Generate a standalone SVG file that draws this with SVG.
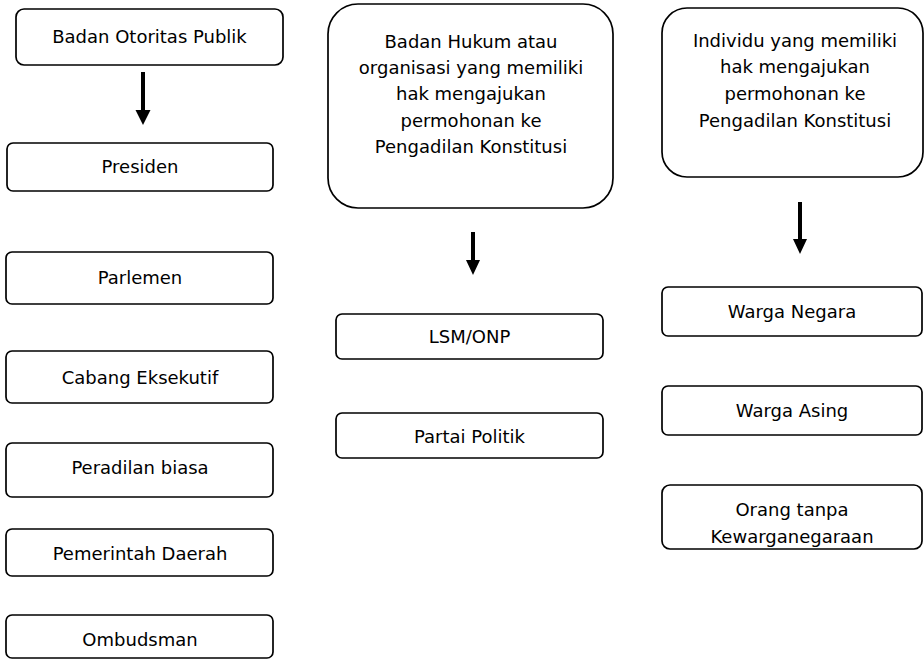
<svg xmlns="http://www.w3.org/2000/svg" width="924" height="660" viewBox="0 0 924 660">
<style>
.box{fill:#fff;stroke:#000;stroke-width:1.7}
.t{font-family:"DejaVu Sans","Liberation Sans",sans-serif;font-size:18px;fill:#000;text-anchor:middle}
.sh{stroke:#000;stroke-width:4;fill:none}
.hd{fill:#000}
</style>
<rect width="924" height="660" fill="#fff"/>
<g id="n-badan-otoritas"><rect class="box" x="16" y="9" width="267" height="56" rx="8"/><text class="t" x="149.5" y="43">Badan Otoritas Publik</text></g>
<g id="n-presiden"><rect class="box" x="7" y="143" width="266" height="48" rx="6"/><text class="t" x="140" y="173">Presiden</text></g>
<g id="n-parlemen"><rect class="box" x="6" y="252" width="267" height="52" rx="6"/><text class="t" x="140" y="284">Parlemen</text></g>
<g id="n-eksekutif"><rect class="box" x="6" y="351" width="267" height="52" rx="6"/><text class="t" x="140" y="384">Cabang Eksekutif</text></g>
<g id="n-peradilan"><rect class="box" x="6" y="443" width="267" height="54" rx="6"/><text class="t" x="140" y="474">Peradilan biasa</text></g>
<g id="n-pemda"><rect class="box" x="6" y="529" width="267" height="47" rx="6"/><text class="t" x="140" y="560">Pemerintah Daerah</text></g>
<g id="n-ombudsman"><rect class="box" x="6" y="615" width="267" height="43" rx="6"/><text class="t" x="140" y="646">Ombudsman</text></g>
<g id="n-badan-hukum"><rect class="box" x="328" y="4" width="285" height="204" rx="30"/><text class="t" x="471" y="48">Badan Hukum atau</text><text class="t" x="471" y="74">organisasi yang memiliki</text><text class="t" x="471" y="100">hak mengajukan</text><text class="t" x="471" y="127">permohonan ke</text><text class="t" x="471" y="153">Pengadilan Konstitusi</text></g>
<g id="n-lsm"><rect class="box" x="336" y="314" width="267" height="45" rx="6"/><text class="t" x="469.5" y="343">LSM/ONP</text></g>
<g id="n-partai"><rect class="box" x="336" y="413" width="267" height="45" rx="6"/><text class="t" x="469.5" y="443">Partai Politik</text></g>
<g id="n-individu"><rect class="box" x="662" y="8" width="261" height="169" rx="25"/><text class="t" x="795" y="47">Individu yang memiliki</text><text class="t" x="795" y="73">hak mengajukan</text><text class="t" x="795" y="100">permohonan ke</text><text class="t" x="795" y="127">Pengadilan Konstitusi</text></g>
<g id="n-wn"><rect class="box" x="662" y="287" width="260" height="49" rx="6"/><text class="t" x="792" y="318">Warga Negara</text></g>
<g id="n-wa"><rect class="box" x="662" y="386" width="260" height="49" rx="6"/><text class="t" x="792" y="417">Warga Asing</text></g>
<g id="n-stateless"><rect class="box" x="662" y="485" width="260" height="64" rx="8"/><text class="t" x="792" y="516">Orang tanpa</text><text class="t" x="792" y="543">Kewarganegaraan</text></g>
<g id="connectors">
<line class="sh" x1="143" y1="72" x2="143" y2="111"/><polygon class="hd" points="135.5,110 150.5,110 143,125"/>
<line class="sh" x1="473" y1="232" x2="473" y2="261"/><polygon class="hd" points="466,260 480,260 473,275"/>
<line class="sh" x1="800" y1="202" x2="800" y2="240"/><polygon class="hd" points="793,239 807,239 800,254"/>
</g>
</svg>
